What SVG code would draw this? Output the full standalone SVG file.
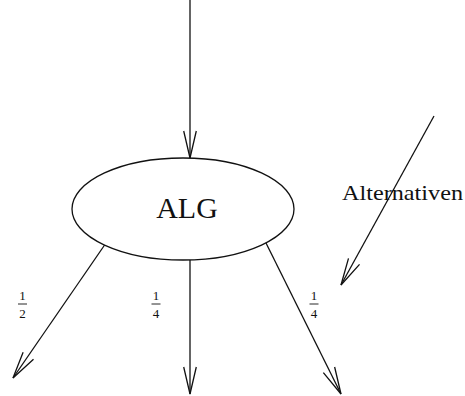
<svg xmlns="http://www.w3.org/2000/svg" width="465" height="396" viewBox="0 0 465 396">
  <style>
    .edge { fill: none; stroke: #111; stroke-width: 1.3; marker-end: url(#open-arrow); }
    .shape { fill: #fff; stroke: #111; stroke-width: 1.3; }
    .label { font-family: "Liberation Serif", "Times New Roman", serif; fill: #111; }
    .frac { font-size: 13px; text-anchor: middle; }
    .bar { stroke: #111; stroke-width: 0.9; }
  </style>
  <defs>
    <!-- long, narrow open V arrowhead -->
    <marker id="open-arrow" markerUnits="userSpaceOnUse" markerWidth="40" markerHeight="20" refX="0" refY="0" viewBox="-30 -10 40 20" orient="auto" overflow="visible">
      <path d="M -27 -6.3 L 0 0 L -27 6.3" fill="none" stroke="#111" stroke-width="1.3"/>
    </marker>
  </defs>
  <rect width="465" height="396" fill="#fff"/>

  <g id="connectors">
    <line class="edge" x1="190" y1="0" x2="190" y2="158"/>
    <line class="edge" x1="106" y1="243" x2="13" y2="378"/>
    <line class="edge" x1="190" y1="260" x2="190" y2="394"/>
    <line class="edge" x1="266" y1="243" x2="341" y2="394"/>
    <line class="edge" x1="434" y1="116" x2="341" y2="285"/>
  </g>

  <g id="alg">
    <ellipse class="shape" cx="183" cy="209" rx="111" ry="51"/>
    <text class="label" x="187" y="218" font-size="30" text-anchor="middle">ALG</text>
  </g>

  <g id="label-alternativen">
    <text class="label" x="342" y="200" font-size="22" textLength="121" lengthAdjust="spacingAndGlyphs">Alternativen</text>
  </g>

  <g id="prob-left">
    <text class="label frac" x="22.5" y="300">1</text>
    <line class="bar" x1="18" y1="304" x2="27" y2="304"/>
    <text class="label frac" x="22.5" y="318">2</text>
  </g>
  <g id="prob-middle">
    <text class="label frac" x="156" y="300">1</text>
    <line class="bar" x1="151.5" y1="304" x2="160.5" y2="304"/>
    <text class="label frac" x="156" y="318">4</text>
  </g>
  <g id="prob-right">
    <text class="label frac" x="314" y="300">1</text>
    <line class="bar" x1="309.5" y1="304" x2="318.5" y2="304"/>
    <text class="label frac" x="314" y="318">4</text>
  </g>
</svg>
